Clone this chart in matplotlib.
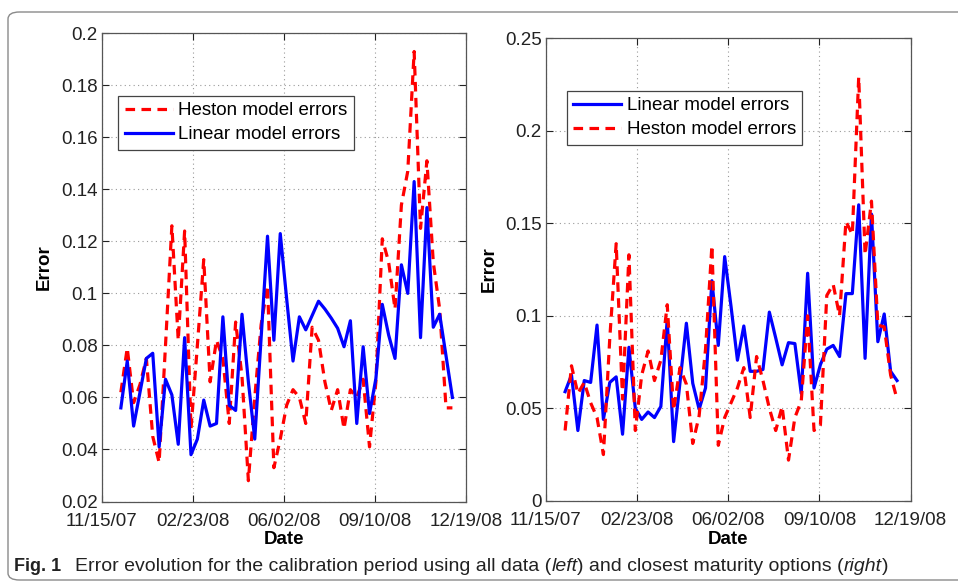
import matplotlib
matplotlib.use("Agg")
import matplotlib.pyplot as plt
import matplotlib.dates as mdates
from matplotlib.patches import FancyBboxPatch
import pandas as pd

# ---------------- data ----------------
dates = pd.date_range("2007-12-06", periods=53, freq="7D")

left_linear = [0.056, 0.074, 0.049, 0.062, 0.075, 0.077, 0.041, 0.067, 0.061, 0.042,
               0.083, 0.038, 0.044, 0.059, 0.049, 0.050, 0.091, 0.057, 0.055, 0.092,
               0.066, 0.044, 0.083, 0.122, 0.082, 0.123, 0.098, 0.074, 0.091, 0.086,
               0.0915, 0.097, 0.094, 0.0905, 0.0866, 0.0795, 0.0895, 0.050, 0.0795, 0.0538,
               0.0673, 0.0958, 0.084, 0.075, 0.111, 0.100, 0.143, 0.083, 0.133, 0.087,
               0.092, 0.076, 0.060]
left_heston = [0.062, 0.079, 0.058, 0.065, 0.075, 0.045, 0.035, 0.080, 0.126, 0.082,
               0.124, 0.048, 0.080, 0.113, 0.066, 0.082, 0.075, 0.050, 0.089, 0.068,
               0.028, 0.060, 0.088, 0.103, 0.033, 0.044, 0.057, 0.063, 0.060, 0.050,
               0.087, 0.082, 0.066, 0.055, 0.063, 0.048, 0.063, 0.060, 0.067, 0.041,
               0.066, 0.121, 0.112, 0.094, 0.134, 0.147, 0.193, 0.125, 0.151, 0.112,
               0.094, 0.056, 0.056]

right_linear = [0.059, 0.068, 0.038, 0.065, 0.064, 0.095, 0.044, 0.064, 0.067, 0.036,
                0.083, 0.050, 0.044, 0.048, 0.045, 0.051, 0.098, 0.032, 0.064, 0.096,
                0.0635, 0.0495, 0.061, 0.119, 0.084, 0.132, 0.105, 0.076, 0.0945, 0.070,
                0.070, 0.071, 0.102, 0.088, 0.0735, 0.0855, 0.085, 0.058, 0.123, 0.061,
                0.0736, 0.082, 0.084, 0.078, 0.112, 0.112, 0.160, 0.077, 0.155, 0.086,
                0.101, 0.070, 0.065]
right_heston = [0.038, 0.073, 0.058, 0.064, 0.053, 0.045, 0.025, 0.088, 0.139, 0.055,
                0.133, 0.038, 0.068, 0.081, 0.065, 0.076, 0.106, 0.049, 0.072, 0.063,
                0.031, 0.046, 0.082, 0.138, 0.030, 0.045, 0.053, 0.061, 0.072, 0.045,
                0.078, 0.065, 0.050, 0.038, 0.051, 0.022, 0.045, 0.054, 0.100, 0.038,
                0.041, 0.111, 0.117, 0.100, 0.151, 0.144, 0.229, 0.133, 0.162, 0.095,
                0.094, 0.068, 0.055]

x_ticks = ["2007-11-15", "2008-02-23", "2008-06-02", "2008-09-10", "2008-12-19"]
x_ticklabels = ["11/15/07", "02/23/08", "06/02/08", "09/10/08", "12/19/08"]
left_yticks = [0.02, 0.04, 0.06, 0.08, 0.1, 0.12, 0.14, 0.16, 0.18, 0.2]
left_yticklabels = ["0.02", "0.04", "0.06", "0.08", "0.1", "0.12", "0.14", "0.16", "0.18", "0.2"]
right_yticks = [0, 0.05, 0.1, 0.15, 0.2, 0.25]
right_yticklabels = ["0", "0.05", "0.1", "0.15", "0.2", "0.25"]

# ---------------- style ----------------
plt.rcParams["font.family"] = ["Liberation Sans", "DejaVu Sans"]
FS = 13.5
BLUE = "#0000ff"
RED = "#ff0000"
LW = 2.3
DASH = (3.0, 2.0)

fig = plt.figure(figsize=(9.58, 5.85), dpi=100)

# outer rounded frame
frame = FancyBboxPatch((8 / 958, 5 / 585), 1.2, (573 - 5) / 585,
                       boxstyle="round,pad=0,rounding_size=0.012",
                       transform=fig.transFigure, facecolor="none",
                       edgecolor="#8a8a8a", linewidth=1.0, clip_on=False)
fig.patches.append(frame)

xt = [mdates.date2num(pd.Timestamp(d)) for d in x_ticks]


def style_axes(ax, yticks, yticklabels, ylim):
    ax.set_xlim(xt[0], xt[-1])
    ax.set_ylim(*ylim)
    ax.set_xticks(xt)
    ax.set_xticklabels(x_ticklabels)
    ax.set_yticks(yticks)
    ax.set_yticklabels(yticklabels)
    ax.tick_params(direction="in", top=True, right=True, length=5, width=0.8,
                   labelsize=FS, colors="#222222", pad=3)
    ax.tick_params(axis="x", pad=8)
    ax.grid(True, linestyle=(0, (1, 3)), color="#9a9a9a", linewidth=0.8)
    for s in ax.spines.values():
        s.set_color("#555555")
        s.set_linewidth(0.9)
    ax.set_xlabel("Date", fontsize=FS, fontweight="bold")
    ax.set_ylabel("Error", fontsize=FS, fontweight="bold")


# left axes
ax1 = fig.add_axes([0.1062, 0.1427, 0.3803, 0.8004])
h1, = ax1.plot(dates, left_heston, color=RED, lw=LW, dashes=DASH, label="Heston model errors")
l1, = ax1.plot(dates, left_linear, color=BLUE, lw=LW, label="Linear model errors")
style_axes(ax1, left_yticks, left_yticklabels, (0.02, 0.2))
ax1.xaxis.set_label_coords(0.5, -0.063)
ax1.yaxis.set_label_coords(-0.135, 0.5)
leg1 = ax1.legend(handles=[h1, l1], loc="upper left", bbox_to_anchor=(0.0456, 0.8667),
                  borderaxespad=0, fontsize=FS, fancybox=False, framealpha=1,
                  edgecolor="#444444", handlelength=2.55, handletextpad=0.3,
                  labelspacing=0.35, borderpad=0.35)
leg1.get_frame().set_linewidth(0.9)

# right axes
ax2 = fig.add_axes([0.5699, 0.1439, 0.3807, 0.7906])
l2, = ax2.plot(dates, right_linear, color=BLUE, lw=LW, label="Linear model errors")
h2, = ax2.plot(dates, right_heston, color=RED, lw=LW, dashes=DASH, label="Heston model errors")
style_axes(ax2, right_yticks, right_yticklabels, (0, 0.25))
ax2.xaxis.set_label_coords(0.5, -0.065)
ax2.yaxis.set_label_coords(-0.133, 0.5)
leg2 = ax2.legend(handles=[l2, h2], loc="upper left", bbox_to_anchor=(0.0568, 0.8867),
                  borderaxespad=0, fontsize=FS, fancybox=False, framealpha=1,
                  edgecolor="#444444", handlelength=2.55, handletextpad=0.3,
                  labelspacing=0.35, borderpad=0.35)
leg2.get_frame().set_linewidth(0.9)

# caption (font size fitted so the sentence spans the reference width)
cap_family = ["Liberation Sans", "DejaVu Sans"]
renderer = fig.canvas.get_renderer()
y = 1 - 571 / 585
fig.text(14 / 958, y, "Fig. 1", fontsize=13, fontweight="bold",
         family=cap_family, color="#222222", ha="left", va="baseline")
parts = [("Error evolution for the calibration period using all data (", "normal"),
         ("left", "italic"),
         (") and closest maturity options (", "normal"),
         ("right", "italic"), (")", "normal")]


def draw_parts(size, x0):
    texts = []
    x = x0
    for txt, st in parts:
        t = fig.text(x, y, txt, fontsize=size, fontstyle=st, family=cap_family,
                     color="#222222", ha="left", va="baseline")
        bb = t.get_window_extent(renderer=renderer)
        x += bb.width / fig.bbox.width
        texts.append(t)
    return texts, (x - x0) * fig.bbox.width


trial, w = draw_parts(13, 75 / 958)
for t in trial:
    t.remove()
size = 13 * 808 / w
draw_parts(size, 75 / 958)

fig.savefig("out.png", dpi=100)
